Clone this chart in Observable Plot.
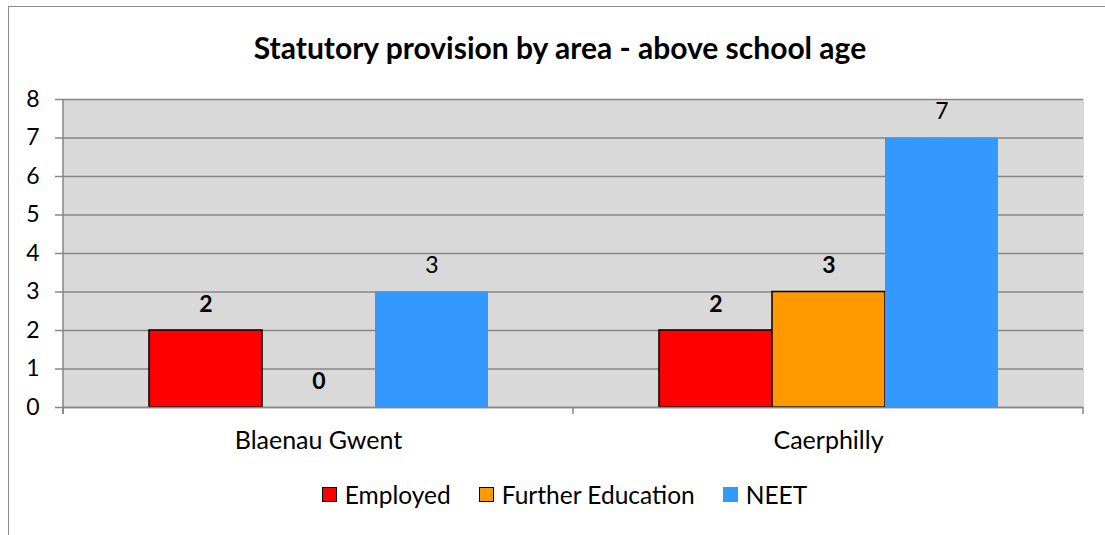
<!DOCTYPE html>
<html>
<head>
<meta charset="utf-8">
<script src="https://cdn.jsdelivr.net/npm/d3@7"></script>
<script src="https://cdn.jsdelivr.net/npm/@observablehq/plot@0.6"></script>
<style>
  html, body { margin: 0; padding: 0; background: #fff; }
  #wrap { position: relative; width: 1105px; height: 535px; overflow: hidden; font-family: Lato, "Open Sans", sans-serif; }
  #border { position: absolute; left: 8px; top: 6px; width: 1200px; height: 600px; border-left: 1.5px solid #8c8c8c; border-top: 1.5px solid #8c8c8c; }
  #title { position: absolute; left: 0; width: 1120px; top: 29px; text-align: center; font-weight: bold; font-size: 30px; line-height: 36px; color: #000; }
  #chart { position: absolute; left: 0; top: 0; }
  #legend { position: absolute; left: 0; width: 1129px; top: 478px; text-align: center; font-size: 24.5px; line-height: 30px; color: #000; }
  .item { display: inline-flex; align-items: center; margin: 0 14px; }
  .sw { display: inline-block; width: 15px; height: 15px; margin-right: 8px; box-sizing: border-box; }
</style>
</head>
<body>
<div id="wrap">
  <div id="border"></div>
  <div id="chart"></div>
  <div id="title"></div>
  <div id="legend"></div>
</div>
<script>
const titleText = "Statutory provision by area - above school age";
const categories = ["Blaenau Gwent", "Caerphilly"];
const series = ["Employed", "Further Education", "NEET"];
const employed = [2, 2];
const furtherEducation = [0, 3];
const neet = [3, 7];
const colors = ["#ff0000", "#ff9900", "#3399ff"];
const yTicks = [0, 1, 2, 3, 4, 5, 6, 7, 8];
const bordered = ["Employed", "Further Education"];
const boldLabels = ["Employed", "Further Education"];

const valuesBySeries = [employed, furtherEducation, neet];
const data = categories.flatMap((c, i) =>
  series.map((s, j) => ({ area: c, series: s, value: valuesBySeries[j][i] }))
);

document.getElementById("title").textContent = titleText;

const plot = Plot.plot({
  width: 1105,
  height: 470,
  marginLeft: 63,
  marginRight: 22,
  marginTop: 99,
  marginBottom: 63,
  style: { fontFamily: "Lato, 'Open Sans', sans-serif", background: "transparent", overflow: "visible" },
  fx: { domain: categories, padding: 0, label: null },
  x: { domain: series, paddingInner: 0, paddingOuter: 0.75, axis: null },
  y: { domain: [0, 8], ticks: yTicks, label: null },
  color: { domain: series, range: colors },
  marks: [
    Plot.frame({ fill: "#d9d9d9", stroke: "#d9d9d9", strokeWidth: 1 }),
    Plot.gridY(yTicks, { stroke: "#868686", strokeOpacity: 1, strokeWidth: 1.5 }),
    Plot.axisY(yTicks, { tickSize: 8, tickPadding: 16, fontSize: 23, stroke: "#868686", strokeWidth: 1.5, fill: "#000", label: null }),
    Plot.axisFx({ anchor: "bottom", tickSize: 0, tickPadding: 24, fontSize: 25, fill: "#000", label: null }),
    Plot.barY(data.filter(d => bordered.includes(d.series) && d.value > 0), {
      fx: "area", x: "series", y: "value", fill: "series", stroke: "#000", strokeWidth: 1.5
    }),
    Plot.barY(data.filter(d => !bordered.includes(d.series)), {
      fx: "area", x: "series", y: "value", fill: "series"
    }),
    Plot.ruleY([0], { stroke: "#868686", strokeWidth: 1.5 }),
    Plot.text(data.filter(d => boldLabels.includes(d.series)), {
      fx: "area", x: "series", y: "value", text: d => String(d.value), dy: -26, fontSize: 23, fontWeight: "bold", fill: "#000"
    }),
    Plot.text(data.filter(d => !boldLabels.includes(d.series)), {
      fx: "area", x: "series", y: "value", text: d => String(d.value), dy: -26, fontSize: 23, fill: "#000"
    })
  ]
});

document.getElementById("chart").appendChild(plot);

// axis line and category boundary ticks derived from the plot's own scales
const fxS = plot.scale("fx");
const yS = plot.scale("y");
const svg = d3.select(plot);
const y0 = yS.apply(0), yTop = yS.apply(8);
const left = fxS.apply(categories[0]);
const bounds = categories.map(c => fxS.apply(c)).concat([fxS.apply(categories[categories.length - 1]) + fxS.bandwidth]);
const g = svg.append("g").attr("stroke", "#868686").attr("stroke-width", 1.5);
g.append("line").attr("x1", left).attr("x2", left).attr("y1", yTop).attr("y2", y0 + 7);
bounds.forEach(b => g.append("line").attr("x1", b).attr("x2", b).attr("y1", y0).attr("y2", y0 + 7));

// legend
const legend = d3.select("#legend");
series.forEach((s, i) => {
  const it = legend.append("span").attr("class", "item");
  it.append("span").attr("class", "sw")
    .style("background", colors[i])
    .style("border", bordered.includes(s) ? "1.5px solid #000" : "none");
  it.append("span").text(s);
});
</script>
</body>
</html>
